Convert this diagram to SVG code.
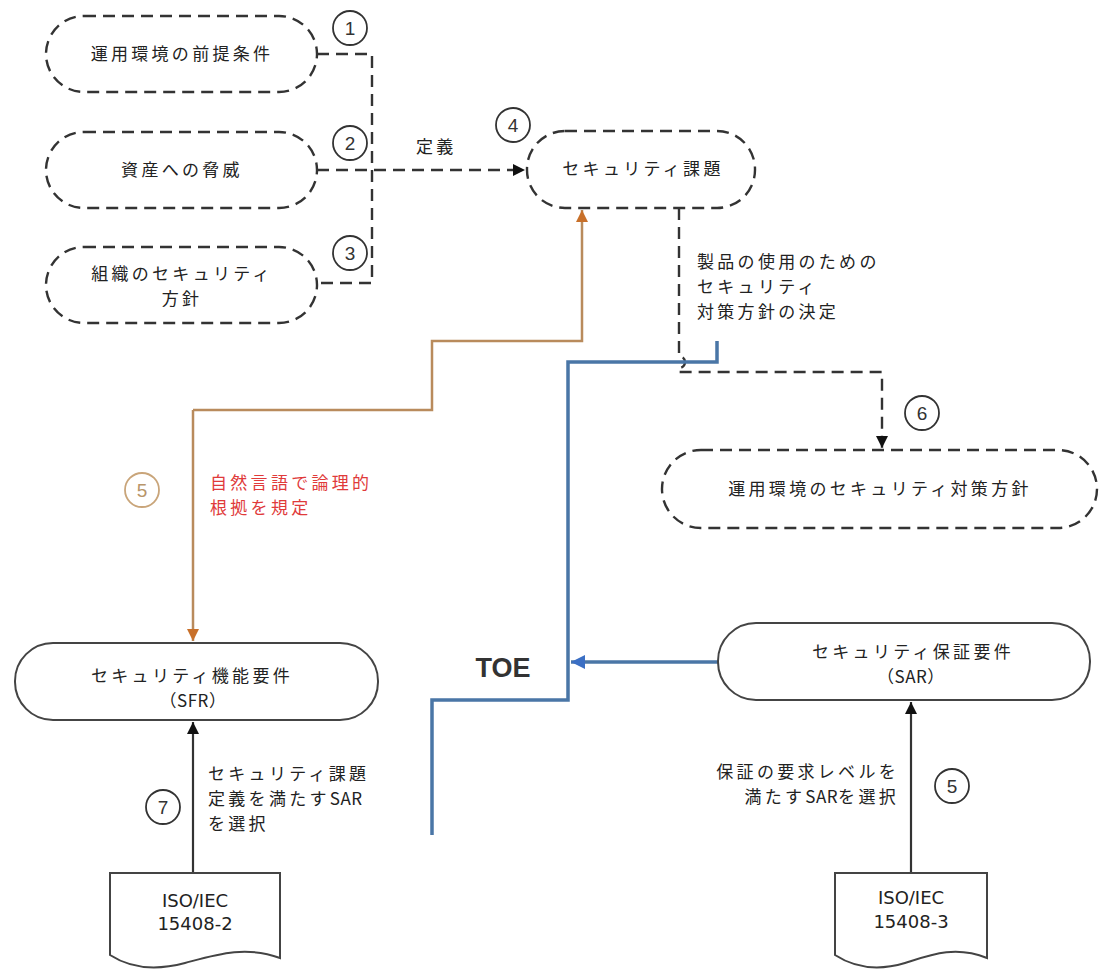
<svg xmlns="http://www.w3.org/2000/svg" width="1100" height="969" viewBox="0 0 1100 969">
<style>
.t{font-family:"Noto Sans CJK JP","Liberation Sans",sans-serif;font-size:17px;letter-spacing:3.3px;fill:#222}
.l{letter-spacing:0.5px}
.c{text-anchor:middle}
.dn{fill:#fff;stroke:#333;stroke-width:2.4;stroke-dasharray:12 7}
.sn{fill:#fff;stroke:#444;stroke-width:2}
.dl{fill:none;stroke:#333;stroke-width:2.4;stroke-dasharray:12 7}
.num{fill:none;stroke:#333;stroke-width:1.8}
.nt{font-family:"Liberation Sans",sans-serif;font-size:19px;fill:#333;text-anchor:middle}
.doc{font-family:"DejaVu Sans",Verdana,sans-serif;font-size:18px;fill:#222;text-anchor:middle}
</style>
<defs>
<marker id="ab2" viewBox="0 0 10 10" refX="10" refY="5" markerWidth="13" markerHeight="12" markerUnits="userSpaceOnUse" orient="auto"><path d="M0,0 L10,5 L0,10 z" fill="#111"/></marker>
<marker id="ao" viewBox="0 0 10 10" refX="10" refY="5" markerWidth="14" markerHeight="12" markerUnits="userSpaceOnUse" orient="auto"><path d="M0,0 L10,5 L0,10 z" fill="#c8702a"/></marker>
<marker id="abl" viewBox="0 0 10 10" refX="10" refY="5" markerWidth="16" markerHeight="14" markerUnits="userSpaceOnUse" orient="auto"><path d="M0,0 L10,5 L0,10 z" fill="#3b6fc4"/></marker>
</defs>

<g id="connectors">
<path class="dl" d="M317,54 H372 V283 H317"/>
<path class="dl" d="M317,170 H525" marker-end="url(#ab2)"/>
<path class="dl" d="M679,208 V356 A6,6 0 0 1 679,368 V372 H882 V448" marker-end="url(#ab2)"/>
<path d="M193,410 V641" fill="none" stroke="#b98b5c" stroke-width="2.5" marker-end="url(#ao)"/>
<path d="M193,410 H432 V341 H582 V210" fill="none" stroke="#b98b5c" stroke-width="2.5" marker-end="url(#ao)"/>
<path d="M717,341 V362 H568 V700 H432 V835" fill="none" stroke="#4a76a6" stroke-width="3.5"/>
<path d="M718,662 H571" fill="none" stroke="#4a76a6" stroke-width="3.5" marker-end="url(#abl)"/>
<path d="M193,873 V722" fill="none" stroke="#333" stroke-width="2.2" marker-end="url(#ab2)"/>
<path d="M911,873 V702" fill="none" stroke="#333" stroke-width="2.2" marker-end="url(#ab2)"/>
</g>

<g id="node1"><rect class="dn" x="46" y="16" width="271" height="76" rx="38"/><text class="t c" x="182" y="60">運用環境の前提条件</text></g>
<g id="node2"><rect class="dn" x="46" y="132" width="271" height="76" rx="38"/><text class="t c" x="182" y="176">資産への脅威</text></g>
<g id="node3"><rect class="dn" x="46" y="247" width="271" height="76" rx="38"/><text class="t c" x="182" y="280">組織のセキュリティ</text><text class="t c" x="182" y="305">方針</text></g>
<g id="node4"><rect class="dn" x="527" y="131" width="228" height="77" rx="38"/><text class="t c" x="643" y="175">セキュリティ課題</text></g>
<g id="node6"><rect class="dn" x="662" y="450" width="435" height="78" rx="39"/><text class="t c" x="880" y="495">運用環境のセキュリティ対策方針</text></g>
<g id="sfr"><rect class="sn" x="15" y="643" width="363" height="77" rx="38"/><text class="t c" x="192" y="682">セキュリティ機能要件</text><text class="t c l" x="193" y="707">（SFR）</text></g>
<g id="sar"><rect class="sn" x="718" y="623" width="372" height="77" rx="38"/><text class="t c" x="913" y="658">セキュリティ保証要件</text><text class="t c l" x="911" y="683">（SAR）</text></g>
<g id="doc2"><path class="sn" d="M110,873 H280 V958 C245,945 215,955 185,963 C155,971 130,968 110,955 Z"/><text class="doc" x="195" y="907">ISO/IEC</text><text class="doc" x="195" y="930">15408-2</text></g>
<g id="doc3"><path class="sn" d="M835,873 H987 V958 C955,945 930,955 905,963 C878,971 855,968 835,955 Z"/><text class="doc" x="911" y="904">ISO/IEC</text><text class="doc" x="911" y="928">15408-3</text></g>

<g id="labels">
<text class="t" x="416" y="153">定義</text>
<text class="t" x="697" y="268">製品の使用のための</text>
<text class="t" x="697" y="293">セキュリティ</text>
<text class="t" x="697" y="318">対策方針の決定</text>
<text class="t" x="210" y="489" style="fill:#e03a3a">自然言語で論理的</text>
<text class="t" x="210" y="514" style="fill:#e03a3a">根拠を規定</text>
<text x="503" y="677" style="font-family:'Liberation Sans',sans-serif;font-size:27px;font-weight:bold;fill:#333;text-anchor:middle">TOE</text>
<text class="t" x="208" y="780">セキュリティ課題</text>
<text class="t" x="208" y="805">定義を満たす<tspan class="l">SAR</tspan></text>
<text class="t" x="208" y="830">を選択</text>
<text class="t" x="899" y="778" text-anchor="end">保証の要求レベルを</text>
<text class="t" x="899" y="803" text-anchor="end">満たす<tspan class="l">SAR</tspan>を選択</text>
</g>

<g id="numbers">
<circle class="num" cx="350" cy="28" r="17"/><text class="nt" x="350" y="35">1</text>
<circle class="num" cx="350" cy="143" r="17"/><text class="nt" x="350" y="150">2</text>
<circle class="num" cx="350" cy="253" r="17"/><text class="nt" x="350" y="260">3</text>
<circle class="num" cx="513" cy="125" r="17"/><text class="nt" x="513" y="132">4</text>
<circle class="num" cx="922" cy="413" r="17"/><text class="nt" x="922" y="420">6</text>
<circle class="num" cx="142" cy="490" r="17" style="stroke:#c9a57a"/><text class="nt" x="142" y="497" style="fill:#b8956a">5</text>
<circle class="num" cx="952" cy="786" r="17"/><text class="nt" x="952" y="793">5</text>
<circle class="num" cx="163" cy="807" r="17"/><text class="nt" x="163" y="814">7</text>
</g>
</svg>
